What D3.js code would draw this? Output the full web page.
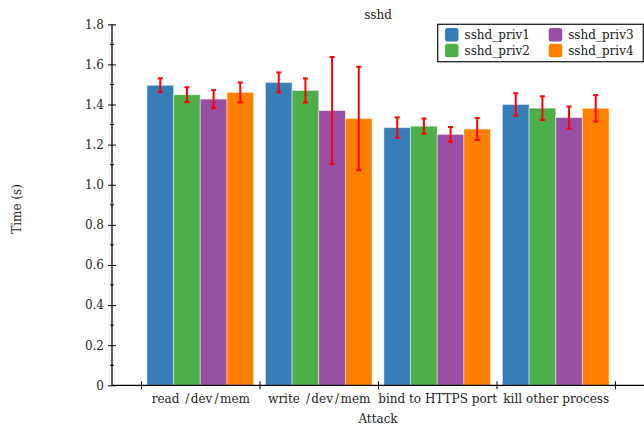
<!DOCTYPE html>
<html>
<head>
<meta charset="utf-8">
<script src="https://cdn.jsdelivr.net/npm/d3@7"></script>
<style>
  html, body { margin: 0; padding: 0; background: #fff; }
  svg { display: block; }
  text { font-family: "DejaVu Serif", serif; fill: #222; }
</style>
</head>
<body>
<svg id="chart" width="644" height="428"></svg>
<script>
// Attack categories and the four sshd privilege configurations
const attacks = ["read /dev/mem", "write /dev/mem", "bind to HTTPS port", "kill other process"];
const seriesNames = ["sshd_priv1", "sshd_priv2", "sshd_priv3", "sshd_priv4"];
const seriesColors = ["#377eb8", "#4daf4a", "#984ea3", "#ff7f00"];

// Mean time (s) per attack, one array per configuration
const priv1 = [1.496, 1.510, 1.285, 1.400];
const priv2 = [1.449, 1.470, 1.292, 1.382];
const priv3 = [1.427, 1.370, 1.251, 1.335];
const priv4 = [1.460, 1.330, 1.278, 1.381];

// Error half-widths (s)
const priv1Err = [0.035, 0.050, 0.051, 0.056];
const priv2Err = [0.037, 0.060, 0.038, 0.059];
const priv3Err = [0.045, 0.267, 0.037, 0.055];
const priv4Err = [0.050, 0.258, 0.055, 0.066];

const yTicks = [0, 0.2, 0.4, 0.6, 0.8, 1.0, 1.2, 1.4, 1.6, 1.8];
const yMinorTicks = [0.1, 0.3, 0.5, 0.7, 0.9, 1.1, 1.3, 1.5, 1.7];

const values = [priv1, priv2, priv3, priv4];
const errors = [priv1Err, priv2Err, priv3Err, priv4Err];

const svg = d3.select("#chart");
const plotLeft = 112, plotRight = 644, plotTop = 24.3, plotBottom = 385.3;

const x = d3.scaleLinear().domain([-0.745, 3.745]).range([plotLeft, plotRight]);
const y = d3.scaleLinear().domain([0, 1.8]).range([plotBottom, plotTop]);

const groupWidth = 0.9;
const barW = groupWidth / seriesNames.length;

// Bars
const bars = [];
values.forEach((arr, s) => arr.forEach((v, i) => bars.push({ s, i, v, e: errors[s][i] })));

const barX = d => x(d.i - groupWidth / 2 + d.s * barW);
const barCx = d => x(d.i - groupWidth / 2 + (d.s + 0.5) * barW);

svg.append("g").selectAll("rect")
  .data(bars)
  .join("rect")
  .attr("x", barX)
  .attr("y", d => y(d.v))
  .attr("width", x(barW) - x(0))
  .attr("height", d => y(0) - y(d.v))
  .attr("fill", d => seriesColors[d.s])
  .attr("stroke", "#fff")
  .attr("stroke-opacity", 0.45)
  .attr("stroke-width", 1);

// Error bars
const eb = svg.append("g").attr("stroke", "#ff0000").attr("stroke-width", 2);
eb.selectAll("line.v").data(bars).join("line").attr("class", "v")
  .attr("x1", barCx).attr("x2", barCx)
  .attr("y1", d => y(d.v - d.e)).attr("y2", d => y(d.v + d.e));
eb.selectAll("line.t").data(bars).join("line").attr("class", "t")
  .attr("x1", d => barCx(d) - 2.5).attr("x2", d => barCx(d) + 2.5)
  .attr("y1", d => y(d.v + d.e)).attr("y2", d => y(d.v + d.e));
eb.selectAll("line.b").data(bars).join("line").attr("class", "b")
  .attr("x1", d => barCx(d) - 2.5).attr("x2", d => barCx(d) + 2.5)
  .attr("y1", d => y(d.v - d.e)).attr("y2", d => y(d.v - d.e));

// Y axis: major ticks crossing the spine, minor ticks in between
const yAxis = svg.append("g").attr("transform", `translate(${plotLeft},0)`)
  .call(d3.axisLeft(y).tickValues(yTicks).tickSize(4).tickPadding(4)
    .tickFormat(d => d === 0 ? "0" : d3.format(".1f")(d)));
yAxis.selectAll(".tick line").attr("x1", 4).attr("x2", -4).attr("stroke", "#000");
yAxis.select(".domain").attr("stroke", "#000").attr("stroke-width", 1.3).attr("d", `M0,${plotBottom}V${plotTop}`);
yAxis.selectAll("text").attr("font-size", 12).attr("font-family", "DejaVu Serif").attr("fill", "#222");
yAxis.append("g").selectAll("line").data(yMinorTicks).join("line")
  .attr("x1", -2).attr("x2", 2)
  .attr("y1", d => y(d)).attr("y2", d => y(d))
  .attr("stroke", "#000");

// X axis: ticks at group boundaries, labels at group centres
const xAxis = svg.append("g").attr("transform", `translate(0,${plotBottom})`)
  .call(d3.axisBottom(x).tickValues([-0.5, 0.5, 1.5, 2.5, 3.5]).tickFormat(""));
xAxis.selectAll(".tick line").attr("y1", -4).attr("y2", 4).attr("stroke", "#000");
xAxis.select(".domain").attr("stroke", "#000").attr("stroke-width", 1.3).attr("d", `M${plotLeft},0H${plotRight}`);

const xLabels = svg.append("g").attr("transform", `translate(0,${plotBottom})`)
  .call(d3.axisBottom(x).tickValues([0, 1, 2, 3]).tickSize(0).tickPadding(9)
    .tickFormat(i => attacks[i]));
xLabels.select(".domain").remove();
xLabels.selectAll("text").attr("font-size", 12).attr("font-family", "DejaVu Serif").attr("fill", "#222");

// Path labels get a little breathing room around each slash
xLabels.selectAll(".tick text").each(function (i) {
  const label = attacks[i];
  if (!label.includes("/")) return;
  const t = d3.select(this).text(null);
  label.split(/(\/)/).filter(s => s.length).forEach((part, k) => {
    t.append("tspan").attr("dx", k === 0 ? 0 : (part === "/" ? 2.2 : 1.4)).text(part);
  });
});

// Titles
svg.append("text").attr("x", (plotLeft + plotRight) / 2).attr("y", 18.5)
  .attr("text-anchor", "middle").attr("font-size", 12).text("sshd");
svg.append("text").attr("x", (plotLeft + plotRight) / 2).attr("y", 423)
  .attr("text-anchor", "middle").attr("font-size", 12).text("Attack");
svg.append("text")
  .attr("transform", `translate(21,209) rotate(-90)`)
  .attr("text-anchor", "middle").attr("font-size", 12).text("Time (s)");

// Legend
const legend = svg.append("g");
legend.append("rect").attr("x", 437.7).attr("y", 24.3).attr("width", 205.6).attr("height", 37.4)
  .attr("fill", "#fff").attr("stroke", "#222").attr("stroke-width", 1.3);
const cols = [445, 548.7];
const rows = [28, 43.8];
seriesNames.forEach((name, k) => {
  const cx = cols[Math.floor(k / 2)], ry = rows[k % 2];
  legend.append("rect").attr("x", cx).attr("y", ry).attr("width", 13.5).attr("height", 13.5)
    .attr("rx", 2.5).attr("fill", seriesColors[k]);
  legend.append("text").attr("x", cx + 19.5).attr("y", ry + 11.3)
    .attr("font-size", 12).text(name);
});
</script>
</body>
</html>
